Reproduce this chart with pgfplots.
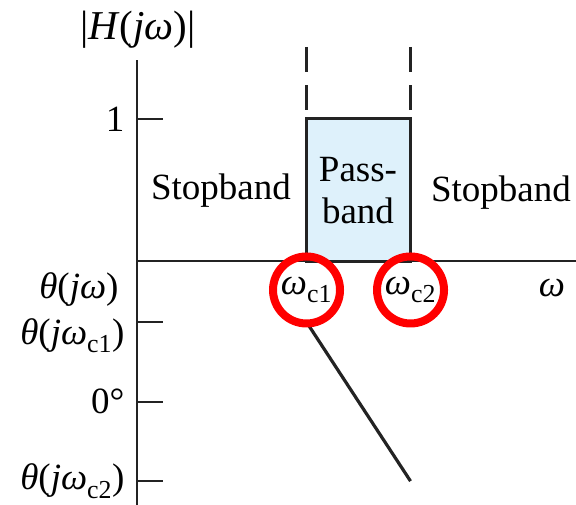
\documentclass[border=0pt]{standalone}
\usepackage{fontspec}
\setmainfont{Liberation Serif}
\usepackage{pgfplots}
\pgfplotsset{compat=1.18}

\definecolor{passfill}{RGB}{222,241,251}
\definecolor{circred}{RGB}{255,0,0}
\definecolor{ink}{RGB}{35,35,35}

\newcommand{\bigfont}{\fontsize{37bp}{42bp}\selectfont}

\begin{document}
\begin{tikzpicture}
\begin{axis}[
  x=104bp, y=142bp,
  xmin=0, xmax=4.22, ymin=-1.718, ymax=1.415,
  axis x line*=middle, axis y line*=left,
  axis line style={ink, line width=2.2bp},
  xtick=\empty,
  ytick={1,-0.43,-0.99,-1.55},
  yticklabels={1, \raisebox{-22bp}[0pt][0pt]{\textit{θ}(\textit{jω}\textsubscript{c1})}, 0°, \textit{θ}(\textit{jω}\textsubscript{c2})},
  ytick align=inside,
  ytick pos=left,
  major tick length=26bp,
  every tick/.style={ink, line width=2.2bp},
  yticklabel style={font=\bigfont, xshift=-9bp},
  clip=false,
]
% ideal band-pass magnitude: unity between the two cut-off frequencies
\addplot[draw=ink, fill=passfill, line width=3bp]
  coordinates {(1.63,0) (1.63,1) (2.63,1) (2.63,0)} \closedcycle;
% cut-off markers above the passband
\addplot[ink, line width=2.2bp, dash pattern=on 25bp off 13bp]
  coordinates {(1.63,1.507) (1.63,1.063)};
\addplot[ink, line width=2.2bp, dash pattern=on 25bp off 13bp]
  coordinates {(2.63,1.507) (2.63,1.063)};
% linear phase across the passband
\addplot[ink, line width=3.2bp]
  coordinates {(1.63,-0.43) (2.63,-1.55)};

\node[font=\fontsize{41bp}{44bp}\selectfont] at (axis cs:0.01,1.627) {|\textit{H}(\textit{jω})|};
\node[font=\bigfont] at (axis cs:0.808,0.493) {Stopband};
\node[font=\bigfont, align=center] at (axis cs:2.125,0.493) {Pass-\\band};
\node[font=\bigfont] at (axis cs:3.5,0.479) {Stopband};
\node[font=\bigfont] at (axis cs:3.99,-0.19) {\textit{ω}};
\node[font=\bigfont, anchor=east] at (axis cs:-0.144,-0.2) {\textit{θ}(\textit{jω})};
\node[font=\bigfont, draw=circred, line width=8bp, circle, inner sep=0pt,
      minimum size=67bp] at (axis cs:1.63,-0.204) {\textit{ω}\textsubscript{c1}};
\node[font=\bigfont, draw=circred, line width=8bp, circle, inner sep=0pt,
      minimum size=67bp] at (axis cs:2.63,-0.204) {\textit{ω}\textsubscript{c2}};

\coordinate (BL) at (axis cs:-1.317,-1.718);
\coordinate (TR) at (axis cs:4.221,1.838);
\end{axis}
\pgfresetboundingbox
\useasboundingbox (BL) rectangle (TR);
\end{tikzpicture}
\end{document}
